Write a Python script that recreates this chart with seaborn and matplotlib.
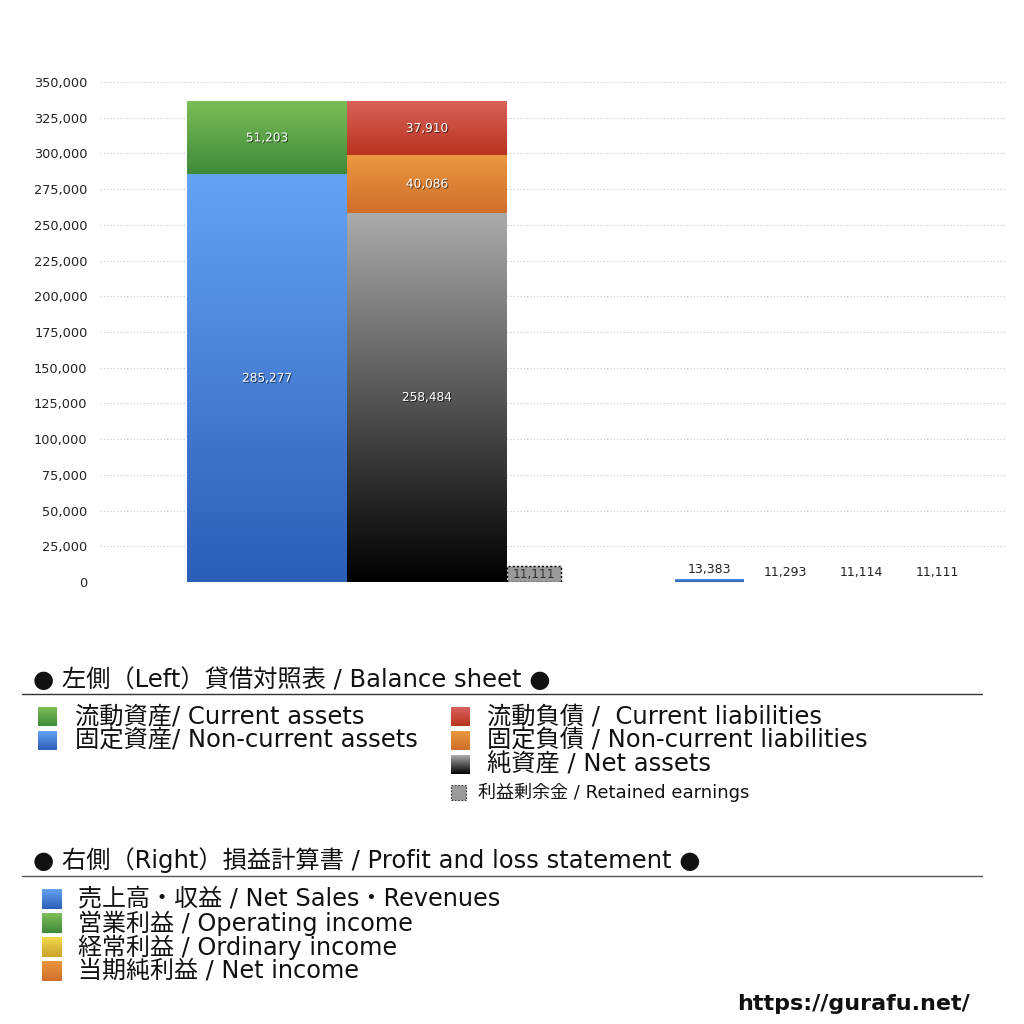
import numpy as np
import matplotlib
matplotlib.use('Agg')
import matplotlib.pyplot as plt
import matplotlib.patheffects as pe
from matplotlib.colors import LinearSegmentedColormap
from matplotlib.patches import Rectangle
from matplotlib.ticker import FuncFormatter
import seaborn as sns

# balance sheet (left side)
assets_labels = ['固定資産/ Non-current assets', '流動資産/ Current assets']
assets_values = [285277, 51203]
liab_labels = ['純資産 / Net assets', '固定負債 / Non-current liabilities', '流動負債 /  Current liabilities']
liab_values = [258484, 40086, 37910]
retained_label = '利益剰余金 / Retained earnings'
retained_value = 11111

# profit and loss (right side)
pl_labels = ['売上高・収益 / Net Sales・Revenues', '営業利益 / Operating income',
             '経常利益 / Ordinary income', '当期純利益 / Net income']
pl_values = [13383, 11293, 11114, 11111]
pl_bar_heights = [2300, 180, 3, 0]

yticks = list(range(0, 350001, 25000))

# gradient colours (top, bottom)
C_GREEN = ('#7dbd56', '#3e8a3b')
C_BLUE = ('#64a3f3', '#2b5eb7')
C_RED = ('#d9625b', '#b8341f')
C_ORANGE = ('#ea9840', '#cf6e2c')
C_BLACK = ('#ababab', '#000000')
C_YELLOW = ('#f3d84c', '#c8a22a')
C_ORANGE2 = ('#e9953f', '#d26f2c')
assets_colors = [C_BLUE, C_GREEN]
liab_colors = [C_BLACK, C_ORANGE, C_RED]
pl_colors = [C_BLUE, C_GREEN, C_YELLOW, C_ORANGE2]

sns.set_theme(style='white')
plt.rcParams['font.family'] = ['DejaVu Sans', 'Noto Sans CJK JP']


def grad_fill(ax, patch, colors):
    x, y = patch.get_x(), patch.get_y()
    w, h = patch.get_width(), patch.get_height()
    if h <= 0:
        return
    cmap = LinearSegmentedColormap.from_list('g', [colors[1], colors[0]])
    img = ax.imshow(np.linspace(0, 1, 256).reshape(-1, 1), cmap=cmap,
                    extent=(x, x + w, y, y + h), origin='lower',
                    aspect='auto', zorder=patch.get_zorder(), interpolation='bilinear')
    img.set_clip_path(patch)


fig = plt.figure(figsize=(10.24, 10.24), dpi=100)
ax = fig.add_axes([100 / 1024, (1024 - 582) / 1024, 907 / 1024, 500 / 1024])

shadow = [pe.SimplePatchShadow(offset=(0.7, -0.7), shadow_rgbFace='black', alpha=0.6), pe.Normal()]

# assets column
bottom = 0
for val, col in zip(assets_values, assets_colors):
    b = ax.bar(87, val, width=160, bottom=bottom, align='edge', color='none', linewidth=0, zorder=2)[0]
    grad_fill(ax, b, col)
    ax.text(87 + 80, bottom + val / 2, f'{val:,}', ha='center', va='center', color='white',
            fontsize=8.7, path_effects=shadow, zorder=4)
    bottom += val

# liabilities + net assets column
bottom = 0
for val, col in zip(liab_values, liab_colors):
    b = ax.bar(247, val, width=160, bottom=bottom, align='edge', color='none', linewidth=0, zorder=2)[0]
    grad_fill(ax, b, col)
    ax.text(247 + 80, bottom + val / 2, f'{val:,}', ha='center', va='center', color='white',
            fontsize=8.7, path_effects=shadow, zorder=4)
    bottom += val

# retained earnings
ax.bar(407, retained_value, width=54, align='edge', color='#9a9a9a', edgecolor='black',
       linestyle=(0, (1.5, 1.5)), linewidth=1, zorder=3)
ax.text(407 + 27, retained_value / 2, f'{retained_value:,}', ha='center', va='center',
        color='#333333', fontsize=8.7, zorder=4)

# profit and loss bars
for i, (val, h, col) in enumerate(zip(pl_values, pl_bar_heights, pl_colors)):
    x0 = 575 + 76 * i
    b = ax.bar(x0, h, width=69, align='edge', color='none', linewidth=0, zorder=2)[0]
    grad_fill(ax, b, col)
    ax.annotate(f'{val:,}', (x0 + 34.5, h), xytext=(0, 2), textcoords='offset points',
                ha='center', va='bottom', color='#222222', fontsize=9, zorder=4)

ax.set_xlim(0, 907)
ax.set_ylim(0, 350000)
ax.set_yticks(yticks)
ax.yaxis.set_major_formatter(FuncFormatter(lambda v, p: f'{int(v):,}'))
ax.set_xticks([])
ax.tick_params(axis='y', length=0, pad=9, labelsize=9.3, labelcolor='#222222')
ax.grid(axis='y', color='#c8c8c8', linestyle=(0, (1, 2)), linewidth=0.8)
ax.set_axisbelow(True)
sns.despine(ax=ax, left=True, bottom=True)

# legend area drawn in pixel coordinates
lg = fig.add_axes([0, 0, 1, 1])
lg.set_xlim(0, 1024)
lg.set_ylim(1024, 0)
lg.axis('off')


def legend_square(x, y, s, colors):
    r = Rectangle((x, y), s, s, facecolor='none', linewidth=0)
    lg.add_patch(r)
    cmap = LinearSegmentedColormap.from_list('g', [colors[0], colors[1]])
    img = lg.imshow(np.linspace(0, 1, 64).reshape(-1, 1), cmap=cmap, extent=(x, x + s, y + s, y),
                    origin='upper', aspect='auto', interpolation='bilinear')
    img.set_clip_path(r)


lg.text(33, 680, '● 左側（Left）貸借対照表 / Balance sheet ●', fontsize=17.5, va='center', color='#111111')
lg.plot([22, 982], [694, 694], color='#333333', linewidth=1)

for i, (lab, col) in enumerate(zip(reversed(assets_labels), reversed(assets_colors))):
    y = 717 + 24 * i
    legend_square(38, y - 10, 19, col)
    lg.text(75, y, lab, fontsize=17.5, va='center', color='#111111')

for i, (lab, col) in enumerate(zip(reversed(liab_labels), reversed(liab_colors))):
    y = 717 + 24 * i
    legend_square(451, y - 10, 19, col)
    lg.text(487, y, lab, fontsize=17.5, va='center', color='#111111')

lg.add_patch(Rectangle((451, 785), 15, 15, facecolor='#9a9a9a', edgecolor='#333333',
                       linestyle=(0, (1.5, 1.5)), linewidth=0.8))
lg.text(478, 792, retained_label, fontsize=13, va='center', color='#111111')

lg.text(33, 860, '● 右側（Right）損益計算書 / Profit and loss statement ●', fontsize=17.5,
        va='center', color='#111111')
lg.plot([22, 982], [876, 876], color='#555555', linewidth=1)

for i, (lab, col) in enumerate(zip(pl_labels, pl_colors)):
    y = 899 + 24 * i
    legend_square(42, y - 10, 20, col)
    lg.text(78, y, lab, fontsize=17.3, va='center', color='#111111')

lg.text(970, 1004, 'https://gurafu.net/', fontsize=16, fontweight='bold', ha='right',
        va='center', color='#111111')

lg.set_xlim(0, 1024)
lg.set_ylim(1024, 0)

fig.savefig('out.png', dpi=100)
